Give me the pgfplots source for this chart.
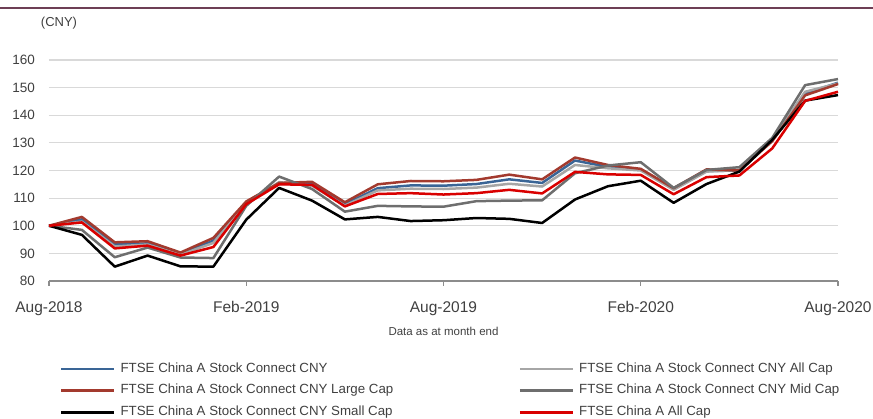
\documentclass[border=0pt]{standalone}
\usepackage{fontspec}
\setmainfont{Liberation Sans}
\usepackage{pgfplots}
\usepackage{pgfplotstable}
\pgfplotsset{compat=1.18}
\definecolor{cny}{HTML}{3A6596}
\definecolor{allcap}{HTML}{A6A6A6}
\definecolor{large}{HTML}{A33A2E}
\definecolor{mid}{HTML}{6E6E6E}
\definecolor{small}{HTML}{15154F}
\definecolor{alla}{HTML}{D90000}
\definecolor{txt}{HTML}{404040}
\definecolor{gridc}{HTML}{D9D9D9}
\definecolor{axisc}{HTML}{8C8C8C}
\definecolor{topline}{HTML}{6D3F55}

\pgfplotstableread{
m cny allcap large mid small alla
0 100 100 100 100 100 100
1 102.3 101.5 103.2 98.5 96.7 101.2
2 93.3 92.5 94.0 88.6 85.2 91.8
3 93.6 93.2 94.4 92.1 89.2 92.8
4 89.8 89.5 90.3 88.5 85.3 89.2
5 94.6 93.8 95.6 88.3 85.2 92.3
6 108.3 108.0 108.8 107.2 102.2 107.8
7 115.2 115.8 115.5 117.8 113.7 115.0
8 115.0 114.5 115.9 113.3 109.1 114.8
9 107.8 107.3 108.5 105.1 102.3 107.0
10 113.6 112.8 115.0 107.2 103.2 111.5
11 114.6 113.4 116.2 107.0 101.7 111.8
12 114.5 113.3 116.1 106.9 102.0 111.3
13 115.1 113.8 116.6 108.9 102.8 111.8
14 116.8 115.2 118.5 109.1 102.5 113.0
15 115.5 114.2 116.8 109.2 101.0 111.7
16 123.6 122.0 124.7 119.0 109.5 119.5
17 121.3 120.8 122.0 121.8 114.3 118.6
18 120.4 120.0 120.6 123.0 116.3 118.4
19 113.3 113.0 113.6 113.7 108.3 111.4
20 119.8 119.6 120.4 120.2 115.1 117.6
21 120.0 120.2 120.0 121.2 119.6 118.2
22 131.0 131.2 130.6 131.8 131.1 128.0
23 147.8 148.5 147.2 150.9 145.3 145.2
24 151.8 151.5 151.3 153.1 147.3 148.5
}\data

\begin{document}
\begin{tikzpicture}
\useasboundingbox (-49pt,-138pt) rectangle (824pt,281pt);
\draw[topline, line width=2pt] (-49pt,273pt) -- (824pt,273pt);
\begin{axis}[
  at={(0pt,0pt)}, anchor=south west,
  scale only axis, width=789pt, height=221pt,
  xmin=0, xmax=24, ymin=80, ymax=160,
  ytick={80,90,...,160},
  xtick={0,6,12,18,24},
  xticklabels={Aug-2018,Feb-2019,Aug-2019,Feb-2020,Aug-2020},
  axis x line*=bottom, axis y line*=left,
  y axis line style={draw=none},
  x axis line style={draw=axisc, line width=1.2pt, -},
  ytick style={draw=none},
  xtick style={draw=axisc, line width=1.2pt},
  tick align=outside, major tick length=5pt,
  ymajorgrids, grid style={gridc, line width=1.2pt},
  /pgf/number format/assume math mode=true,
  yticklabel style={font=\fontsize{13.5}{15}\selectfont, text=txt, anchor=east, inner sep=0pt, xshift=-9pt},
  xticklabel style={font=\fontsize{15.5}{18}\selectfont, text=txt, anchor=north, inner sep=0pt, yshift=-15pt},
  xlabel={Data as at month end},
  xlabel style={at={(axis description cs:0.5,-0.2263)}, anchor=center, inner sep=0pt, font=\fontsize{11.5}{13}\selectfont, text=txt},
  legend columns=2,
  legend cell align=left,
  legend image code/.code={\draw[#1, line width=2.6pt] (0pt,0pt) -- (53pt,0pt);},
  legend style={at={(axis description cs:0.01394,-0.3688)}, anchor=north west,
    draw=none, fill=none, inner sep=0pt, outer sep=0pt,
    column sep=0pt, row sep=9.2pt,
    font=\fontsize{13.3}{15}\selectfont, text=txt,
    nodes={inner sep=0pt, text height=9.5pt, text depth=3.2pt}},
  every axis plot/.append style={line width=2.5pt, line join=round},
  clip=false,
]
\addplot[cny, no markers] table[x=m, y=cny] {\data};
\addlegendentry{\makebox[403pt][l]{\hspace{5pt}FTSE China A Stock Connect CNY}}
\addplot[allcap, no markers] table[x=m, y=allcap] {\data};
\addlegendentry{\hspace{5pt}FTSE China A Stock Connect CNY All Cap}
\addplot[large, no markers] table[x=m, y=large] {\data};
\addlegendentry{\makebox[403pt][l]{\hspace{5pt}FTSE China A Stock Connect CNY Large Cap}}
\addplot[mid, no markers] table[x=m, y=mid] {\data};
\addlegendentry{\hspace{5pt}FTSE China A Stock Connect CNY Mid Cap}
\addplot[small, no markers] table[x=m, y=small] {\data};
\addlegendentry{\makebox[403pt][l]{\hspace{5pt}FTSE China A Stock Connect CNY Small Cap}}
\addplot[alla, no markers] table[x=m, y=alla] {\data};
\addlegendentry{\hspace{5pt}FTSE China A All Cap}
\node[anchor=center, inner sep=0pt, font=\fontsize{13}{15}\selectfont, text=txt] at (axis description cs:0.01267,1.1674) {(CNY)};
\end{axis}
\end{tikzpicture}
\end{document}
